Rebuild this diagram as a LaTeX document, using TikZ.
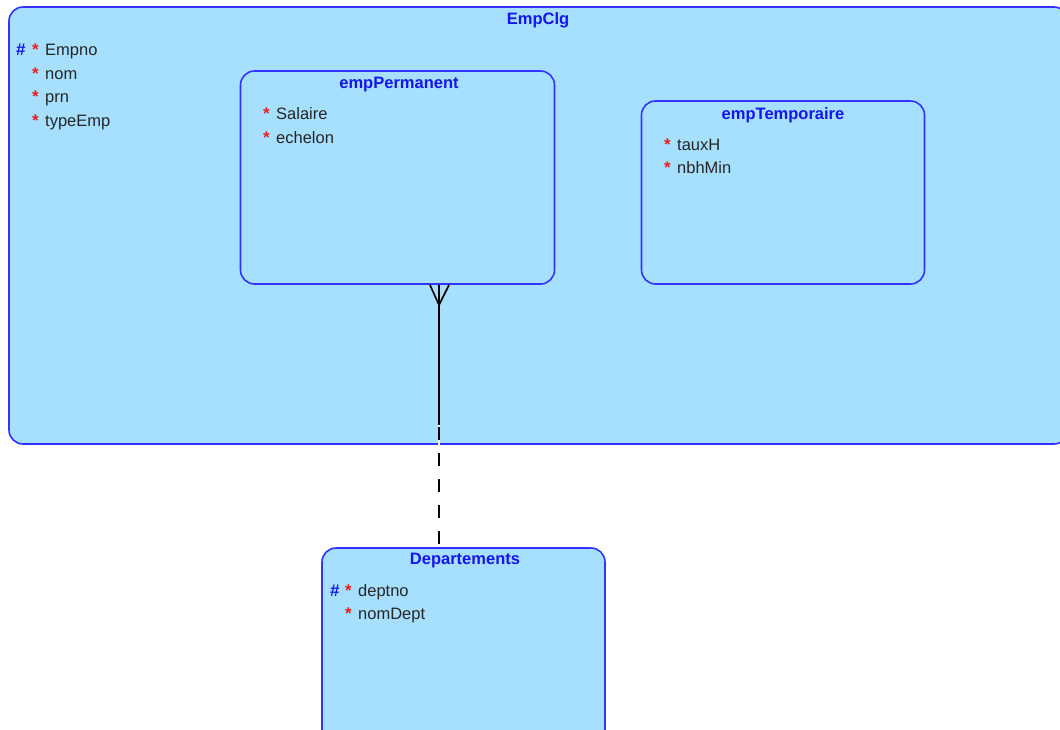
\documentclass[tikz,border=0pt]{standalone}
\usepackage{fontspec}
\setmainfont{Liberation Sans}
\definecolor{boxfill}{RGB}{166,224,254}
\definecolor{boxline}{RGB}{51,51,255}
\definecolor{titleblue}{RGB}{20,20,240}
\definecolor{starred}{RGB}{235,30,30}
\begin{document}
\begin{tikzpicture}[x=1pt,y=-1pt,
  entity/.style={draw=boxline,fill=boxfill,line width=1.6pt,rounded corners=14pt},
  etitle/.style={font=\fontsize{16.5}{18}\selectfont\bfseries,text=titleblue,inner sep=0pt},
  attr/.style={font=\fontsize{16.5}{18}\selectfont,text=black!85,anchor=base west,inner sep=0pt},
  star/.style={font=\fontsize{17}{18}\selectfont\bfseries,text=starred,anchor=base west,inner sep=0pt},
  hash/.style={font=\fontsize{17}{18}\selectfont\bfseries,text=titleblue,anchor=base west,inner sep=0pt},
  rel/.style={draw=black,line width=1.4pt}]
\useasboundingbox (0,0) rectangle (1060,729);
\clip (0,0) rectangle (1060,729);
% EmpClg
\path[entity] (9,7) rectangle (1068,444);
\node[etitle] (t1) at (538,20) {EmpClg};
\node[hash] (h1) at (16,55) {\#};
\node[star] (s1) at (32,55) {*};
\node[attr] (a1) at (45,55) {Empno};
\node[star] (s2) at (32,79) {*};
\node[attr] (a2) at (45,79) {nom};
\node[star] (s3) at (32,102) {*};
\node[attr] (a3) at (45,102) {prn};
\node[star] (s4) at (32,126) {*};
\node[attr] (a4) at (45,126) {typeEmp};
% empPermanent
\node[entity,minimum width=314pt,minimum height=213pt,inner sep=0pt] (perm) at (397.5,177.5) {};
\node[etitle] (t2) at (399,85) {empPermanent};
\node[star] (s5) at (263,119) {*};
\node[attr] (a5) at (276,119) {Salaire};
\node[star] (s6) at (263,143) {*};
\node[attr] (a6) at (276,143) {echelon};
% empTemporaire
\node[entity,minimum width=283pt,minimum height=183pt,inner sep=0pt] (temp) at (783,192.5) {};
\node[etitle] (t3) at (783,115) {empTemporaire};
\node[star] (s7) at (664,150) {*};
\node[attr] (a7) at (677,150) {tauxH};
\node[star] (s8) at (664,173) {*};
\node[attr] (a8) at (677,173) {nbhMin};
% Departements
\node[entity,minimum width=283pt,minimum height=200pt,inner sep=0pt] (dept) at (463.5,648) {};
\node[etitle] (t4) at (465,561) {Departements};
\node[hash] (h2) at (330,596) {\#};
\node[star] (s9) at (345,596) {*};
\node[attr] (a9) at (358,596) {deptno};
\node[star] (s10) at (345,619) {*};
\node[attr] (a10) at (358,619) {nomDept};
% relationship
\coordinate (mid) at (439,425);
\coordinate (foot) at (439,305);
\draw[rel] (perm.south -| mid) -- (mid);
\draw[white,line width=2.4pt] (mid) -- (dept.north -| mid);
\draw[rel,dash pattern=on 13pt off 13pt,dash phase=-2pt] (mid) -- (dept.north -| mid);
\draw[rel,line width=1.6pt] (430,285) -- (foot) -- (449,285);
\end{tikzpicture}
\end{document}
